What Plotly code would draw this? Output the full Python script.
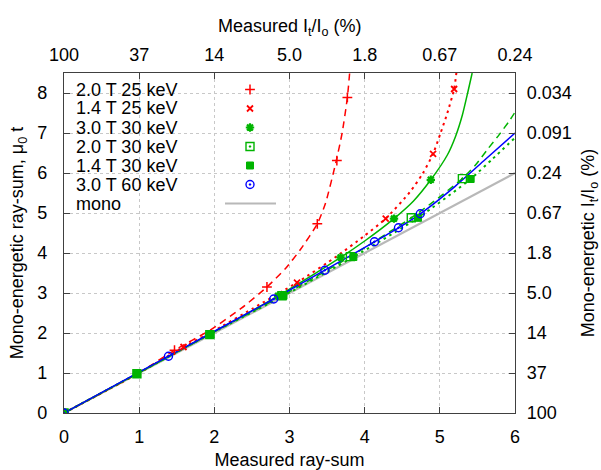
import plotly.graph_objects as go

# ---------------- data ----------------
# measured points (x = measured ray-sum, y = mono-energetic ray-sum)
r25_20_x = [0, 1.47, 2.70, 3.37, 3.63, 3.77]
r25_20_y = [0, 1.57, 3.15, 4.73, 6.31, 7.89]
r25_14_x = [0, 1.59, 3.10, 4.28, 4.91, 5.19]
r25_14_y = [0, 1.65, 3.26, 4.86, 6.48, 8.10]
g30_30_x = [0, 0.97, 1.93, 2.85, 3.68, 4.39, 4.88]
g30_30_y = [0, 0.98, 1.96, 2.93, 3.89, 4.86, 5.83]
g30_20_x = [0, 0.97, 1.94, 2.90, 3.81, 4.62, 5.30]
g30_20_y = [0, 0.98, 1.96, 2.93, 3.91, 4.88, 5.86]
g30_14_x = [0, 0.97, 1.95, 2.92, 3.85, 4.71, 5.41]
g30_14_y = [0, 0.98, 1.96, 2.93, 3.90, 4.88, 5.85]
b60_30_x = [0, 1.39, 2.79, 3.47, 4.13, 4.45, 4.74]
b60_30_y = [0, 1.42, 2.85, 3.57, 4.28, 4.63, 4.98]

# fitted curves
f25_20_x = [0, 1.0, 1.47, 1.95, 2.36, 2.70, 2.95, 3.15, 3.37, 3.48, 3.62, 3.70, 3.77, 3.80]
f25_20_y = [0, 1.01, 1.57, 2.08, 2.62, 3.15, 3.62, 4.10, 4.73, 5.25, 6.29, 7.00, 7.89, 8.50]
f25_14_x = [0, 1.0, 1.59, 2.0, 2.5, 3.10, 3.63, 3.99, 4.28, 4.60, 4.77, 4.91, 5.01, 5.10, 5.19, 5.22]
f25_14_y = [0, 1.0, 1.65, 2.06, 2.60, 3.26, 3.92, 4.42, 4.86, 5.52, 5.98, 6.48, 7.00, 7.50, 8.10, 8.50]
f30_30_x = [0, 0.97, 1.93, 2.85, 3.68, 4.0, 4.39, 4.65, 4.88, 5.10, 5.21, 5.30, 5.37, 5.43]
f30_30_y = [0, 0.98, 1.96, 2.93, 3.89, 4.30, 4.86, 5.30, 5.83, 6.45, 6.92, 7.45, 8.00, 8.50]
f30_20_x = [0, 0.97, 1.93, 2.90, 3.81, 4.62, 4.92, 5.30, 5.48, 5.63, 5.79, 5.92, 6.0]
f30_20_y = [0, 0.98, 1.96, 2.93, 3.91, 4.88, 5.29, 5.86, 6.21, 6.58, 6.96, 7.29, 7.52]
f30_14_x = [0, 0.97, 1.93, 2.92, 3.85, 4.71, 5.41, 5.70, 6.0]
f30_14_y = [0, 0.98, 1.96, 2.93, 3.90, 4.88, 5.85, 6.35, 6.88]
f60_30_x = [0, 1.39, 2.79, 3.47, 4.13, 4.45, 4.74, 5.20, 5.60, 6.0]
f60_30_y = [0, 1.42, 2.85, 3.57, 4.28, 4.63, 4.98, 5.66, 6.33, 7.00]
mono_x = [0, 6]
mono_y = [0, 6]

x_ticks = [0, 1, 2, 3, 4, 5, 6]
x2_ticktext = ["100", "37", "14", "5.0", "1.8", "0.67", "0.24"]
y_ticks = [0, 1, 2, 3, 4, 5, 6, 7, 8]
y2_ticktext = ["100", "37", "14", "5.0", "1.8", "0.67", "0.24", "0.091", "0.034"]

legend_names = ["2.0 T 25 keV", "1.4 T 25 keV", "3.0 T 30 keV", "2.0 T 30 keV",
                "1.4 T 30 keV", "3.0 T 60 keV", "mono"]

# ---------------- styles ----------------
RED = "#ff0000"
GREEN = "#00b400"
BLUE = "#0000ff"
GRAY = "#b8b8b8"
FONT = "Liberation Sans, Arial, sans-serif"
FS = 18
DASH = "7px,5px"
DOT = "2.5px,4px"

fig = go.Figure()

def curve(x, y, color, dash, width=1.5, smoothing=0.6):
    fig.add_trace(go.Scatter(x=x, y=y, mode="lines", showlegend=False,
                             line=dict(color=color, dash=dash, width=width,
                                       shape="spline", smoothing=smoothing),
                             hoverinfo="skip"))

def pts(x, y, color, symbol, size, lw=1.5):
    fig.add_trace(go.Scatter(x=x, y=y, mode="markers", showlegend=False,
                             marker=dict(color=color, symbol=symbol, size=size,
                                         line=dict(color=color, width=lw))))

curve(mono_x, mono_y, GRAY, "solid", width=2.2)
curve(f25_20_x, f25_20_y, RED, DASH)
curve(f25_14_x, f25_14_y, RED, DOT, width=2)
curve(f30_30_x, f30_30_y, GREEN, "solid")
curve(f30_20_x, f30_20_y, GREEN, DASH)
curve(f30_14_x, f30_14_y, GREEN, DOT, width=2)
curve(f60_30_x, f60_30_y, BLUE, "solid")

marker_specs = [
    (r25_20_x, r25_20_y, RED, "cross-thin-open", 7, 1.5),
    (r25_14_x, r25_14_y, RED, "x-thin-open", 6, 1.8),
    (g30_30_x, g30_30_y, GREEN, "asterisk-open", 7, 2.2),
    (g30_20_x, g30_20_y, GREEN, "square-open-dot", 8, 1.4),
    (g30_14_x, g30_14_y, GREEN, "square", 7, 1),
    (b60_30_x, b60_30_y, BLUE, "circle-open-dot", 8, 1.4),
]
for x, y, c, s, sz, lw in marker_specs:
    pts(x, y, c, s, sz, lw)

# ---------------- hand-built legend (text left, key right) ----------------
L, R, T, B = 64, 86, 73, 57
W, H = 601, 470
pw, ph = W - L - R, H - T - B

def px2x(p):
    return (p - L) / pw

def py2y(p):
    return (H - B - p) / ph

row0, step = 89.5, 19.0
key_x = px2x(250)
for i, name in enumerate(legend_names):
    yy = py2y(row0 + i * step)
    fig.add_annotation(x=px2x(74), y=yy, xref="paper", yref="paper", text=name,
                       showarrow=False, xanchor="left", yanchor="middle",
                       font=dict(family=FONT, size=18, color="black"))
    if i < len(marker_specs):
        _, _, c, s, sz, lw = marker_specs[i]
        fig.add_trace(go.Scatter(x=[key_x], y=[yy], xaxis="x3", yaxis="y3",
                                 mode="markers", showlegend=False,
                                 marker=dict(color=c, symbol=s, size=sz,
                                             line=dict(color=c, width=lw))))
    else:
        fig.add_trace(go.Scatter(x=[px2x(225), px2x(276)], y=[yy, yy],
                                 xaxis="x3", yaxis="y3", mode="lines",
                                 showlegend=False, line=dict(color=GRAY, width=2.2)))

fig.add_shape(type="rect", xref="paper", yref="paper", layer="between",
              x0=px2x(73), x1=px2x(285), y0=py2y(211), y1=py2y(80),
              fillcolor="white", line=dict(width=0))

# top axis title (placed as annotation for precise position)
fig.add_annotation(x=0.5, y=py2y(27), xref="paper", yref="paper",
                   text="Measured I<sub>t</sub>/I<sub>o</sub> (%)", showarrow=False,
                   xanchor="center", yanchor="middle",
                   font=dict(family=FONT, size=FS, color="black"))

axis_common = dict(showline=True, linecolor="#404040", linewidth=1.2,
                   ticks="inside", ticklen=6, tickcolor="#404040", tickwidth=1,
                   tickfont=dict(family=FONT, size=FS, color="black"),
                   zeroline=False, automargin=False)

fig.update_layout(
    width=W, height=H,
    margin=dict(l=L, r=R, t=T, b=B, autoexpand=False),
    paper_bgcolor="white", plot_bgcolor="white",
    font=dict(family=FONT, size=FS, color="black"),
    showlegend=False,
    xaxis=dict(range=[0, 6], tickvals=x_ticks, ticktext=[str(v) for v in x_ticks],
               showgrid=True, gridcolor="#c8c8c8", griddash="dot", gridwidth=1,
               ticklabelstandoff=7,
               title=dict(text="Measured ray-sum", standoff=7,
                          font=dict(family=FONT, size=FS)),
               **axis_common),
    xaxis2=dict(range=[0, 6], overlaying="x", side="top", tickvals=x_ticks,
                ticktext=x2_ticktext, showgrid=False, ticklabelstandoff=4,
                **axis_common),
    yaxis=dict(range=[0, 8.5], tickvals=y_ticks, ticktext=[str(v) for v in y_ticks],
               showgrid=True, gridcolor="#c8c8c8", griddash="dot", gridwidth=1,
               ticklabelstandoff=12,
               title=dict(text="Mono-energetic ray-sum, μ<sub>0</sub> t", standoff=8,
                          font=dict(family=FONT, size=FS)),
               **axis_common),
    yaxis2=dict(range=[0, 8.5], overlaying="y", side="right", tickvals=y_ticks,
                ticktext=y2_ticktext, showgrid=False, ticklabelstandoff=7,
                title=dict(text="Mono-energetic I<sub>t</sub>/I<sub>o</sub> (%)", standoff=12,
                           font=dict(family=FONT, size=FS)),
                **axis_common),
    xaxis3=dict(range=[0, 1], overlaying="x", visible=False),
    yaxis3=dict(range=[0, 1], overlaying="y", visible=False),
)

# dummy trace to activate the top / right axes
fig.add_trace(go.Scatter(x=[0], y=[0], xaxis="x2", yaxis="y2", mode="markers",
                         marker=dict(opacity=0), showlegend=False, hoverinfo="skip"))

fig.write_html("out.html")
